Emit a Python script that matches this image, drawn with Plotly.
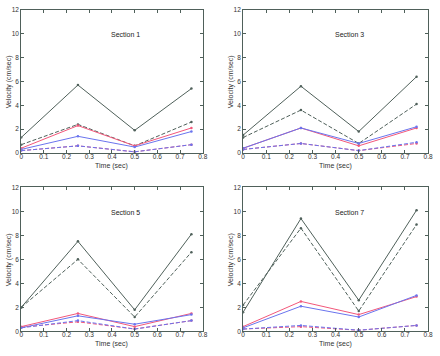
import plotly.graph_objects as go
from plotly.subplots import make_subplots

times = [0, 0.25, 0.5, 0.75]
sections = ["Section 1", "Section 3", "Section 5", "Section 7"]

# series per section: black solid, black dashed, red solid, blue solid, red dashed, blue dashed
black_solid = [[1.3, 5.7, 1.9, 5.4], [1.5, 5.6, 1.8, 6.4], [2.0, 7.5, 1.8, 8.1], [1.6, 9.4, 2.6, 10.1]]
black_dashed = [[0.7, 2.4, 0.6, 2.6], [1.3, 3.6, 0.8, 4.1], [2.0, 6.0, 1.2, 6.6], [2.2, 8.6, 1.7, 8.9]]
red_solid = [[0.4, 2.3, 0.6, 2.1], [0.4, 2.1, 0.6, 2.1], [0.4, 1.5, 0.4, 1.5], [0.4, 2.5, 1.4, 2.9]]
blue_solid = [[0.3, 1.4, 0.5, 1.8], [0.4, 2.1, 0.8, 2.2], [0.3, 1.3, 0.6, 1.4], [0.3, 2.1, 1.2, 3.0]]
red_dashed = [[0.2, 0.6, 0.1, 0.7], [0.3, 0.8, 0.2, 0.8], [0.35, 0.8, 0.2, 0.9], [0.2, 0.4, 0.1, 0.5]]
blue_dashed = [[0.2, 0.6, 0.1, 0.7], [0.3, 0.8, 0.2, 0.9], [0.3, 0.9, 0.2, 0.9], [0.2, 0.5, 0.1, 0.5]]

x_ticks = [0, 0.1, 0.2, 0.3, 0.4, 0.5, 0.6, 0.7, 0.8]
y_ticks = [0, 2, 4, 6, 8, 10, 12]

GREY = "#4f605a"
RED = "#f2577a"
BLUE = "#6a74ee"

series = [
    (black_solid, GREY, "solid"),
    (black_dashed, GREY, "4px,2px"),
    (red_solid, RED, "solid"),
    (blue_solid, BLUE, "solid"),
    (red_dashed, RED, "4px,2px"),
    (blue_dashed, BLUE, "4px,2px"),
]

fig = make_subplots(rows=2, cols=2)

for i in range(4):
    r, c = i // 2 + 1, i % 2 + 1
    for data, color, dash in series:
        fig.add_trace(go.Scatter(
            x=times, y=data[i], mode="lines+markers",
            line=dict(color=color, width=1, dash=dash),
            marker=dict(color=color, size=2.5),
            showlegend=False, hoverinfo="skip"), row=r, col=c)

W, H = 440, 356
xdoms = [[19.5 / W, 204 / W], [245 / W, 433 / W]]
ytops = [(6, 152), (187, 334)]
ydoms = [[1 - b / H, 1 - t / H] for t, b in ytops]

FAM = "Liberation Sans, Arial, sans-serif"
font = dict(family=FAM, size=6.5, color="#333")
tfont = dict(family=FAM, size=7, color="#333")

for i in range(4):
    r, c = i // 2, i % 2
    sfx = "" if i == 0 else str(i + 1)
    fig.layout["xaxis" + sfx].update(
        domain=xdoms[c], range=[0, 0.8], tickvals=x_ticks,
        ticktext=[("%g" % v) for v in x_ticks],
        ticks="inside", ticklen=3, tickcolor=GREY, mirror="ticks",
        showline=True, linecolor=GREY, linewidth=1, showgrid=False, zeroline=False,
        tickfont=font, ticklabelstandoff=-3)
    fig.layout["yaxis" + sfx].update(
        domain=ydoms[r], range=[0, 12], tickvals=y_ticks,
        ticks="inside", ticklen=3, tickcolor=GREY, mirror="ticks",
        showline=True, linecolor=GREY, linewidth=1, showgrid=False, zeroline=False,
        tickfont=font)
    fig.add_annotation(text=sections[i], x=0.46, y=9.9,
                       xref="x" + sfx, yref="y" + sfx, showarrow=False,
                       font=dict(family=FAM, size=7, color="#222"))
    # axis titles
    xmid = (xdoms[c][0] + xdoms[c][1]) / 2
    bottom_px = ytops[r][1]
    fig.add_annotation(text="Time (sec)", x=xmid, y=1 - (bottom_px + 13) / H,
                       xref="paper", yref="paper", showarrow=False,
                       xanchor="center", yanchor="middle", font=tfont)
    ymid = (ydoms[r][0] + ydoms[r][1]) / 2
    fig.add_annotation(text="Velocity (cm/sec)", x=xdoms[c][0] - 11.5 / W, y=ymid,
                       xref="paper", yref="paper", showarrow=False, textangle=-90,
                       xanchor="center", yanchor="middle", font=tfont)

fig.update_layout(width=W, height=H, margin=dict(l=0, r=0, t=0, b=0),
                  paper_bgcolor="white", plot_bgcolor="white")

fig.write_html("out.html", config={"displayModeBar": False},
               post_script="document.body.style.margin='0';document.body.style.overflow='hidden';")
